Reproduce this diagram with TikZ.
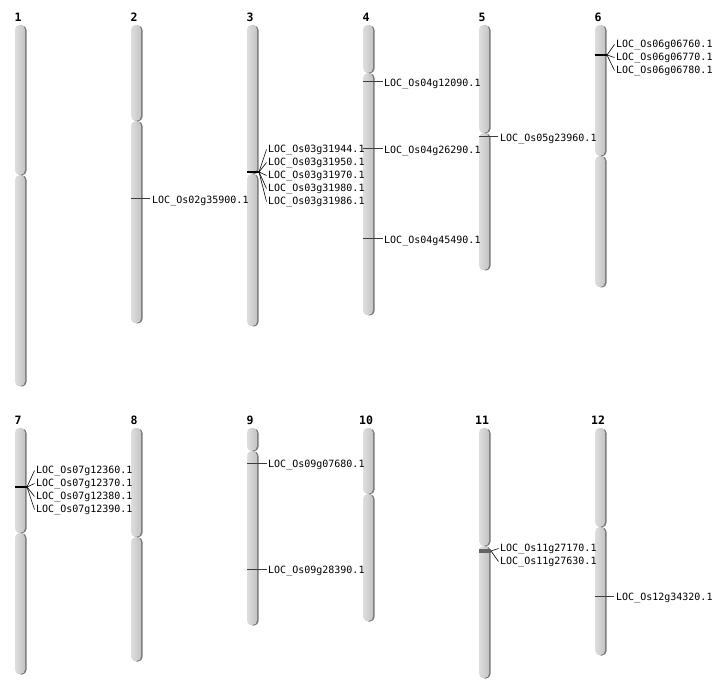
\documentclass[tikz,border=0pt]{standalone}
\usepackage{fontspec}
\setmonofont{DejaVu Sans Mono}
\usepackage{tikz}
\usetikzlibrary{positioning}
\definecolor{chromlight}{RGB}{222, 222, 222}
\definecolor{chrommid}{RGB}{196, 196, 196}
\definecolor{chromshade}{RGB}{120, 120, 120}
\definecolor{markgrey}{RGB}{60, 60, 60}
\definecolor{bandgrey}{RGB}{100, 100, 100}

\tikzset{
  chrnum/.style={font=\ttfamily\bfseries\fontsize{11.5}{13}\selectfont, inner sep=0pt},
  locus/.style={font=\ttfamily\fontsize{10}{12}\selectfont, anchor=west, inner sep=0pt, yshift=-1.5pt},
  tick/.style={markgrey, line width=1pt},
  cluster/.style={black, line width=2pt},
  fan/.style={black, line width=0.6pt}
}

\begin{document}
\begin{tikzpicture}[x=1pt, y=-1pt]
\useasboundingbox (0,0) rectangle (712,700);
% chromosomes: number / left / top / centromere / bottom
\foreach \n/\x/\t/\c/\b in {1/15/25/175/386, 2/131/25/121/323, 3/247/25/174/326,
    4/363/25/73/315, 5/479/25/133/270, 6/595/25/156/287,
    7/15/428/533/674, 8/131/428/537/661, 9/247/428/451/625,
    10/363/428/494/621, 11/479/428/546/678, 12/595/428/527/655} {
  \fill[chromshade, rounded corners=4.5] (\x+1.5,\t+0.5) rectangle (\x+11.5,\c+0.3);
  \fill[chromshade, rounded corners=4.5] (\x+1.5,\c+0.3) rectangle (\x+11.5,\b+0.5);
  \shade[left color=chromlight, right color=chrommid, rounded corners=4.5] (\x,\t) rectangle (\x+10,\c-0.2);
  \shade[left color=chromlight, right color=chrommid, rounded corners=4.5] (\x,\c+0.2) rectangle (\x+10,\b);
  \node[chrnum] (n\n) at (\x+3,\t-8) {\n};
}

% chromosome 2
\coordinate (m2) at (131,199);
\node[locus] (loc2) at (152,199) {LOC\_Os02g35900.1};
\draw[tick] (m2) -- ([xshift=-2pt]m2 -| loc2.west);

% chromosome 3
\coordinate (m3) at (247,172);
\coordinate (f3) at (259,172);
\draw[cluster] (m3) -- (f3);
\foreach \i/\y/\id in {a/148/31944, b/161/31950, c/174/31970, d/187/31980, e/200/31986} {
  \node[locus] (loc3\i) at (268,\y) {LOC\_Os03g\id.1};
  \draw[fan] (f3) -- ([xshift=-1.5pt]loc3\i.west);
}

% chromosome 4
\foreach \i/\y/\id in {a/82/12090, b/149/26290, c/239/45490} {
  \coordinate (m4\i) at (363,\y);
  \node[locus] (loc4\i) at (384,\y) {LOC\_Os04g\id.1};
  \draw[tick] (m4\i) -- ([xshift=-1pt]m4\i -| loc4\i.west);
}

% chromosome 5
\coordinate (m5) at (479,137);
\node[locus] (loc5) at (500,137) {LOC\_Os05g23960.1};
\draw[tick] (m5) -- ([xshift=-2pt]m5 -| loc5.west);

% chromosome 6
\coordinate (m6) at (595,55);
\coordinate (f6) at (607,55);
\draw[cluster] (m6) -- (f6);
\foreach \i/\y/\id in {a/43/06760, b/56/06770, c/69/06780} {
  \node[locus] (loc6\i) at (616,\y) {LOC\_Os06g\id.1};
  \draw[fan] (f6) -- ([xshift=-1.5pt]loc6\i.west);
}

% chromosome 7
\coordinate (m7) at (15,487);
\coordinate (f7) at (27,487);
\draw[cluster] (m7) -- (f7);
\foreach \i/\y/\id in {a/469/12360, b/482/12370, c/495/12380, d/508/12390} {
  \node[locus] (loc7\i) at (36,\y) {LOC\_Os07g\id.1};
  \draw[fan] (f7) -- ([xshift=-1.5pt]loc7\i.west);
}

% chromosome 9
\foreach \i/\y/\id in {a/463/07680, b/569/28390} {
  \coordinate (m9\i) at (247,\y);
  \node[locus] (loc9\i) at (268,\y) {LOC\_Os09g\id.1};
  \draw[tick] (m9\i) -- ([xshift=-1pt]m9\i -| loc9\i.west);
}

% chromosome 11
\coordinate (m11) at (479,551);
\coordinate (f11) at (491,551);
\draw[bandgrey, line width=4pt] (m11) -- (f11);
\foreach \i/\y/\id in {a/547/27170, b/560/27630} {
  \node[locus] (loc11\i) at (500,\y) {LOC\_Os11g\id.1};
  \draw[fan] (f11) -- ([xshift=-1.5pt]loc11\i.west);
}

% chromosome 12
\coordinate (m12) at (595,596);
\node[locus] (loc12) at (616,596) {LOC\_Os12g34320.1};
\draw[tick] (m12) -- ([xshift=-2pt]m12 -| loc12.west);
\end{tikzpicture}
\end{document}
